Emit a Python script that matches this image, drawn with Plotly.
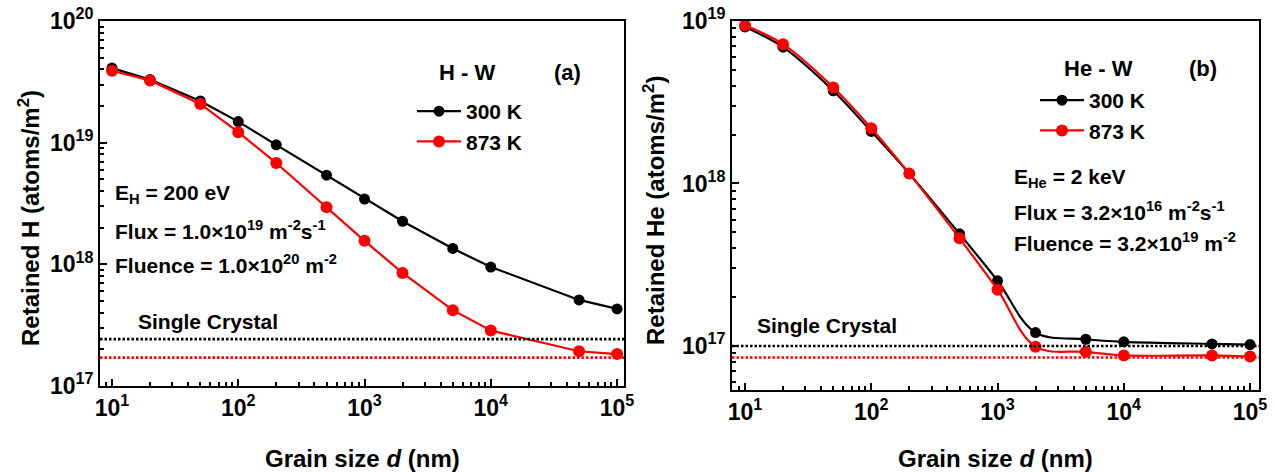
import plotly.graph_objects as go
from plotly.subplots import make_subplots

# Grain sizes (nm) shared by both panels
grain_size_nm = [10, 20, 50, 100, 200, 500, 1000, 2000, 5000, 10000, 50000, 100000]

# (a) retained hydrogen in tungsten (atoms/m^2)
h_300K = [4.1e19, 3.3e19, 2.2e19, 1.49e19, 9.6e18, 5.4e18, 3.44e18, 2.26e18,
          1.35e18, 9.5e17, 5.1e17, 4.3e17]
h_873K = [3.9e19, 3.25e19, 2.08e19, 1.22e19, 6.8e18, 2.94e18, 1.56e18, 8.5e17,
          4.2e17, 2.86e17, 1.93e17, 1.83e17]
h_single_crystal = [2.43e17, 1.71e17]   # 300 K, 873 K

# (b) retained helium in tungsten (atoms/m^2)
he_300K = [9.2e18, 6.9e18, 3.72e18, 2.09e18, 1.15e18, 4.9e17, 2.52e17, 1.21e17,
           1.1e17, 1.06e17, 1.03e17, 1.02e17]
he_873K = [9.4e18, 7.2e18, 3.9e18, 2.19e18, 1.15e18, 4.6e17, 2.22e17, 9.9e16,
           9.2e16, 8.75e16, 8.75e16, 8.6e16]
he_single_crystal = [1.0e17, 8.5e16]    # 300 K, 873 K

temperatures = ["300 K", "873 K"]
colors = ["#000000", "#ff0000"]

x_tick_vals = [10, 100, 1000, 10000, 100000]
x_tick_text = ["10<sup>1</sup>", "10<sup>2</sup>", "10<sup>3</sup>", "10<sup>4</sup>", "10<sup>5</sup>"]
y_tick_vals_a = [1e17, 1e18, 1e19, 1e20]
y_tick_text_a = ["10<sup>17</sup>", "10<sup>18</sup>", "10<sup>19</sup>", "10<sup>20</sup>"]
y_tick_vals_b = [1e17, 1e18, 1e19]
y_tick_text_b = ["10<sup>17</sup>", "10<sup>18</sup>", "10<sup>19</sup>"]

FONT = "Liberation Sans, Arial, sans-serif"
W, H = 1275, 472


def px(x):
    return x / W


def py(y):
    return 1 - y / H


def minor_vals(lo, hi):
    return [float(m) * 10.0 ** k for k in range(lo, hi) for m in range(2, 10)]


fig = make_subplots(rows=1, cols=2)

panels = [
    (1, [h_300K, h_873K], h_single_crystal, "linear", "legend"),
    (2, [he_300K, he_873K], he_single_crystal, "spline", "legend2"),
]
for col, series, crystal, shape, leg in panels:
    for vals, name, color, size in zip(series, temperatures, colors, [11, 12]):
        fig.add_trace(go.Scatter(
            x=grain_size_nm, y=vals, name=name, mode="lines+markers",
            line=dict(color=color, width=2.2, shape=shape),
            marker=dict(color=color, size=size, symbol="circle"),
            legend=leg,
        ), row=1, col=col)
    for level, color in zip(crystal, colors):
        fig.add_hline(y=level, line=dict(color=color, width=2.6, dash="2.5px,2px"),
                      row=1, col=col)

axis_common = dict(
    type="log", showline=True, linewidth=2, linecolor="black", mirror=True,
    ticks="inside", ticklen=7, tickwidth=2, tickcolor="black",
    showgrid=False, zeroline=False, automargin=False,
    tickfont=dict(family=FONT, size=23, color="black", weight="bold"),
)

fig.update_xaxes(**axis_common, tickmode="array", tickvals=x_tick_vals, ticktext=x_tick_text,
                 minor=dict(ticks="inside", ticklen=4, tickwidth=1.5, tickcolor="black",
                            tickvals=minor_vals(0, 5)))
fig.update_yaxes(**axis_common)

fig.update_layout(
    xaxis=dict(domain=[px(100), px(624)], range=[0.905, 5.055], anchor="y"),
    yaxis=dict(domain=[py(386), py(21)], range=[17, 20], anchor="x",
               tickmode="array", tickvals=y_tick_vals_a, ticktext=y_tick_text_a,
               minor=dict(ticks="inside", ticklen=4, tickwidth=1.5, tickcolor="black",
                          tickvals=minor_vals(17, 20))),
    xaxis2=dict(domain=[px(732), px(1259)], range=[0.897, 5.071], anchor="y2"),
    yaxis2=dict(domain=[py(390), py(21)], range=[16.729, 19], anchor="x2",
                tickmode="array", tickvals=y_tick_vals_b, ticktext=y_tick_text_b,
                minor=dict(ticks="inside", ticklen=4, tickwidth=1.5, tickcolor="black",
                           tickvals=minor_vals(16, 19))),
)

legend_common = dict(
    xanchor="left", yanchor="top", bgcolor="rgba(0,0,0,0)", borderwidth=0,
    itemwidth=44, tracegroupgap=0,
    font=dict(family=FONT, size=21, color="black", weight="bold"),
)
fig.update_layout(
    legend=dict(**legend_common, x=px(412), y=py(91)),
    legend2=dict(**legend_common, x=px(1035), y=py(80)),
)


def note(text, x, y, size=21, xanchor="left", angle=0):
    fig.add_annotation(
        text=text, x=px(x), y=py(y), xref="paper", yref="paper",
        xanchor=xanchor, yanchor="middle", showarrow=False, textangle=angle,
        font=dict(family=FONT, size=size, color="black", weight="bold"),
    )


# Panel (a) labels
note("H - W", 437, 72, size=22)
note("(a)", 552, 72, size=22)
note("E<sub>H</sub> = 200 eV", 113, 194)
note("Flux = 1.0×10<sup>19</sup> m<sup>-2</sup>s<sup>-1</sup>", 113, 230)
note("Fluence = 1.0×10<sup>20</sup> m<sup>-2</sup>", 113, 264)
note("Single Crystal", 136, 321)
note("Retained H (atoms/m<sup>2</sup>)", 29, 218, size=24, xanchor="center", angle=-90)
note("Grain size <i>d</i> (nm)", 362, 458, size=24, xanchor="center")

# Panel (b) labels
note("He - W", 1062, 68, size=22)
note("(b)", 1187, 68, size=22)
note("E<sub>He</sub> = 2 keV", 1012, 178)
note("Flux = 3.2×10<sup>16</sup> m<sup>-2</sup>s<sup>-1</sup>", 1012, 211)
note("Fluence = 3.2×10<sup>19</sup> m<sup>-2</sup>", 1012, 242)
note("Single Crystal", 755, 325)
note("Retained He (atoms/m<sup>2</sup>)", 654, 211, size=24, xanchor="center", angle=-90)
note("Grain size <i>d</i> (nm)", 995, 458, size=24, xanchor="center")

fig.update_layout(
    width=W, height=H, margin=dict(l=0, r=0, t=0, b=0),
    paper_bgcolor="white", plot_bgcolor="white", showlegend=True,
)

fig.write_html("out.html")
